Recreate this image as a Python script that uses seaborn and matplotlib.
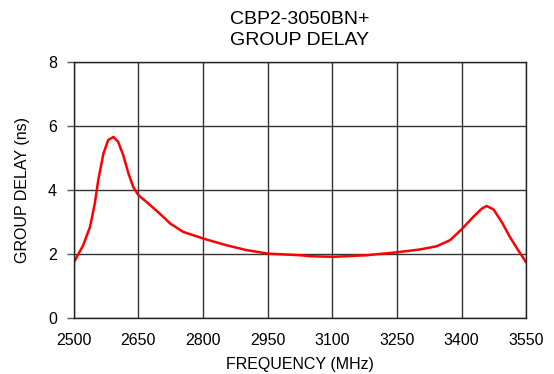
import matplotlib
matplotlib.use("Agg")
import matplotlib.pyplot as plt
import seaborn as sns
import pandas as pd

# values
freq_mhz = [2501, 2522, 2538, 2549, 2557, 2569, 2580, 2592, 2603, 2615, 2627,
            2638, 2650, 2673, 2699, 2724, 2754, 2801, 2855, 2901, 2951, 3025,
            3048, 3102, 3180, 3249, 3303, 3342, 3373, 3400, 3427, 3447, 3458,
            3474, 3493, 3512, 3531, 3549]
delay_ns = [1.75, 2.27, 2.85, 3.58, 4.31, 5.14, 5.56, 5.66, 5.51, 5.09, 4.52,
            4.10, 3.84, 3.58, 3.27, 2.95, 2.69, 2.48, 2.27, 2.12, 2.01, 1.96,
            1.93, 1.91, 1.96, 2.05, 2.14, 2.24, 2.43, 2.77, 3.16, 3.42, 3.50,
            3.39, 3.00, 2.53, 2.12, 1.75]
x_ticks = [2500, 2650, 2800, 2950, 3100, 3250, 3400, 3550]
y_ticks = [0, 2, 4, 6, 8]

df = pd.DataFrame({"freq": freq_mhz, "delay": delay_ns})

sns.set_theme(style="white")
plt.rcParams["font.family"] = ["Liberation Sans", "DejaVu Sans"]
plt.rcParams["text.color"] = "black"
plt.rcParams["axes.labelcolor"] = "black"
plt.rcParams["xtick.color"] = "black"
plt.rcParams["ytick.color"] = "black"

fig = plt.figure(figsize=(5.54, 3.74), dpi=100)
ax = fig.add_axes([0.133, 0.150, 0.817, 0.684])

sns.lineplot(data=df, x="freq", y="delay", color="#ff0000", linewidth=1.8, ax=ax)

ax.set_xlim(2500, 3550)
ax.set_ylim(0, 8)
ax.set_xticks(x_ticks)
ax.set_yticks(y_ticks)
ax.grid(True, color="#333333", linewidth=1.0)
ax.set_axisbelow(True)
for s in ax.spines.values():
    s.set_color("#222222")
    s.set_linewidth(1.0)
ax.tick_params(axis="y", left=True, length=5, width=1, color="#555555", labelsize=11.5, pad=7)
ax.tick_params(axis="x", bottom=False, labelsize=11.5, pad=5)

ax.set_xlabel("FREQUENCY (MHz)", fontsize=11.5, labelpad=6)
ax.set_ylabel("GROUP DELAY (ns)", fontsize=11.5, labelpad=13)
ax.set_title("CBP2-3050BN+\nGROUP DELAY", fontsize=14, pad=12, linespacing=1.35)

fig.savefig("out.png", dpi=100)
